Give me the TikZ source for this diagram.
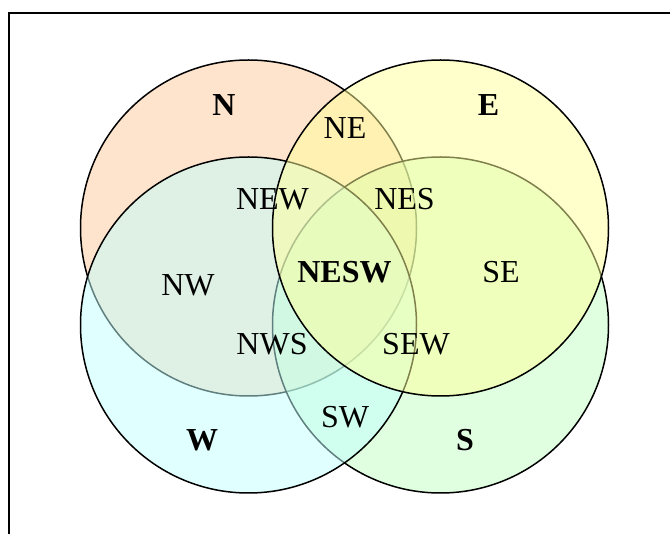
\documentclass[tikz,border=0pt]{standalone}
\usepackage{fontspec}
\setmainfont{Liberation Serif}
\newcommand{\labfont}{\fontsize{32}{38}\selectfont}
\definecolor{colorN}{HTML}{FDC999}
\definecolor{colorE}{HTML}{FFFF99}
\definecolor{colorW}{HTML}{C1FFFF}
\definecolor{colorS}{HTML}{C1FFC1}
\tikzset{
   frame/.style={draw=black,line width=2pt},
   set/.style={draw=black,line width=1.5pt},
   setN/.style={set,fill=colorN,fill opacity=0.5},
   setE/.style={set,fill=colorE,fill opacity=0.5},
   setW/.style={set,fill=colorW,fill opacity=0.5},
   setS/.style={set,fill=colorS,fill opacity=0.5},
   lab/.style={font=\labfont,inner sep=0pt},
   labb/.style={font=\labfont\bfseries,inner sep=0pt},
}

\begin{document}
\begin{tikzpicture}[x=1pt, y=-1pt]
    \clip (0,0) rectangle (670,534);
    \draw[frame] (8.8,13.2) rectangle (700,580);

    \draw[setN] (248.5,228) circle (168pt);
    \draw[setS] (440.5,325) circle (168pt);
    \draw[setW] (248.5,325) circle (168pt);
    \draw[setE] (440.5,228) circle (168pt);

    \node[labb] (n) at (224,105) {N};
    \node[labb] (e) at (488.5,105) {E};
    \node[labb] (w) at (202,440) {W};
    \node[labb] (s) at (465,440) {S};

    \node[lab] (ne)  at (345,128)   {NE};
    \node[lab] (new) at (272.5,199) {NEW};
    \node[lab] (nes) at (404.5,199) {NES};
    \node[lab] (nw)  at (188,285)   {NW};
    \node[labb] (nesw) at (344.5,272.5) {NESW};
    \node[lab] (se)  at (501,272)   {SE};
    \node[lab] (nws) at (272,344)   {NWS};
    \node[lab] (sew) at (416,344)   {SEW};
    \node[lab] (sw)  at (345,417)   {SW};
\end{tikzpicture}
\end{document}
